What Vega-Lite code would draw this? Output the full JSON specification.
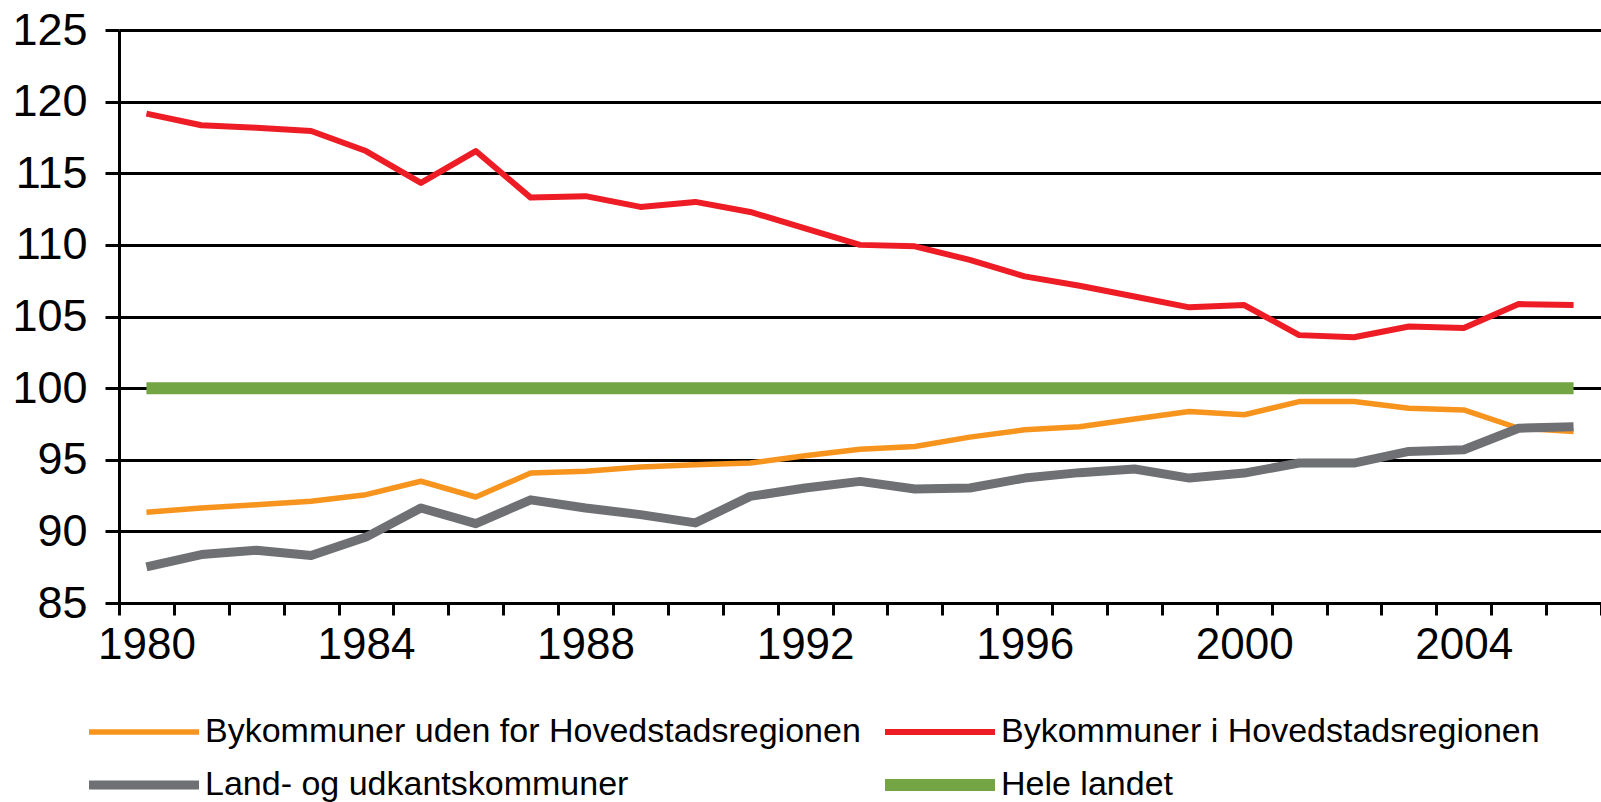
{
  "$schema": "https://vega.github.io/schema/vega-lite/v6.json",
  "width": 1482,
  "height": 573,
  "autosize": {"type": "none"},
  "padding": {"left": 119, "top": 30, "right": 0, "bottom": 199},
  "background": "white",
  "config": {
    "view": {"stroke": null},
    "font": "Liberation Sans",
    "axis": {"labelFont": "Liberation Sans", "labelColor": "black"}
  },
  "data": {"values": [
    {"year": 1980, "series": "Bykommuner uden for Hovedstadsregionen", "value": 91.33},
    {"year": 1981, "series": "Bykommuner uden for Hovedstadsregionen", "value": 91.63},
    {"year": 1982, "series": "Bykommuner uden for Hovedstadsregionen", "value": 91.86},
    {"year": 1983, "series": "Bykommuner uden for Hovedstadsregionen", "value": 92.1},
    {"year": 1984, "series": "Bykommuner uden for Hovedstadsregionen", "value": 92.56},
    {"year": 1985, "series": "Bykommuner uden for Hovedstadsregionen", "value": 93.5},
    {"year": 1986, "series": "Bykommuner uden for Hovedstadsregionen", "value": 92.4},
    {"year": 1987, "series": "Bykommuner uden for Hovedstadsregionen", "value": 94.07},
    {"year": 1988, "series": "Bykommuner uden for Hovedstadsregionen", "value": 94.2},
    {"year": 1989, "series": "Bykommuner uden for Hovedstadsregionen", "value": 94.49},
    {"year": 1990, "series": "Bykommuner uden for Hovedstadsregionen", "value": 94.65},
    {"year": 1991, "series": "Bykommuner uden for Hovedstadsregionen", "value": 94.77},
    {"year": 1992, "series": "Bykommuner uden for Hovedstadsregionen", "value": 95.28},
    {"year": 1993, "series": "Bykommuner uden for Hovedstadsregionen", "value": 95.74},
    {"year": 1994, "series": "Bykommuner uden for Hovedstadsregionen", "value": 95.93},
    {"year": 1995, "series": "Bykommuner uden for Hovedstadsregionen", "value": 96.58},
    {"year": 1996, "series": "Bykommuner uden for Hovedstadsregionen", "value": 97.09},
    {"year": 1997, "series": "Bykommuner uden for Hovedstadsregionen", "value": 97.3},
    {"year": 1998, "series": "Bykommuner uden for Hovedstadsregionen", "value": 97.85},
    {"year": 1999, "series": "Bykommuner uden for Hovedstadsregionen", "value": 98.37},
    {"year": 2000, "series": "Bykommuner uden for Hovedstadsregionen", "value": 98.14},
    {"year": 2001, "series": "Bykommuner uden for Hovedstadsregionen", "value": 99.06},
    {"year": 2002, "series": "Bykommuner uden for Hovedstadsregionen", "value": 99.06},
    {"year": 2003, "series": "Bykommuner uden for Hovedstadsregionen", "value": 98.6},
    {"year": 2004, "series": "Bykommuner uden for Hovedstadsregionen", "value": 98.48},
    {"year": 2005, "series": "Bykommuner uden for Hovedstadsregionen", "value": 97.2},
    {"year": 2006, "series": "Bykommuner uden for Hovedstadsregionen", "value": 96.97},
    {"year": 1980, "series": "Bykommuner i Hovedstadsregionen", "value": 119.16},
    {"year": 1981, "series": "Bykommuner i Hovedstadsregionen", "value": 118.35},
    {"year": 1982, "series": "Bykommuner i Hovedstadsregionen", "value": 118.18},
    {"year": 1983, "series": "Bykommuner i Hovedstadsregionen", "value": 117.95},
    {"year": 1984, "series": "Bykommuner i Hovedstadsregionen", "value": 116.55},
    {"year": 1985, "series": "Bykommuner i Hovedstadsregionen", "value": 114.33},
    {"year": 1986, "series": "Bykommuner i Hovedstadsregionen", "value": 116.55},
    {"year": 1987, "series": "Bykommuner i Hovedstadsregionen", "value": 113.3},
    {"year": 1988, "series": "Bykommuner i Hovedstadsregionen", "value": 113.4},
    {"year": 1989, "series": "Bykommuner i Hovedstadsregionen", "value": 112.65},
    {"year": 1990, "series": "Bykommuner i Hovedstadsregionen", "value": 113.0},
    {"year": 1991, "series": "Bykommuner i Hovedstadsregionen", "value": 112.3},
    {"year": 1992, "series": "Bykommuner i Hovedstadsregionen", "value": 111.15},
    {"year": 1993, "series": "Bykommuner i Hovedstadsregionen", "value": 110.0},
    {"year": 1994, "series": "Bykommuner i Hovedstadsregionen", "value": 109.9},
    {"year": 1995, "series": "Bykommuner i Hovedstadsregionen", "value": 108.95},
    {"year": 1996, "series": "Bykommuner i Hovedstadsregionen", "value": 107.8},
    {"year": 1997, "series": "Bykommuner i Hovedstadsregionen", "value": 107.15},
    {"year": 1998, "series": "Bykommuner i Hovedstadsregionen", "value": 106.4},
    {"year": 1999, "series": "Bykommuner i Hovedstadsregionen", "value": 105.64},
    {"year": 2000, "series": "Bykommuner i Hovedstadsregionen", "value": 105.8},
    {"year": 2001, "series": "Bykommuner i Hovedstadsregionen", "value": 103.7},
    {"year": 2002, "series": "Bykommuner i Hovedstadsregionen", "value": 103.55},
    {"year": 2003, "series": "Bykommuner i Hovedstadsregionen", "value": 104.3},
    {"year": 2004, "series": "Bykommuner i Hovedstadsregionen", "value": 104.2},
    {"year": 2005, "series": "Bykommuner i Hovedstadsregionen", "value": 105.87},
    {"year": 2006, "series": "Bykommuner i Hovedstadsregionen", "value": 105.8},
    {"year": 1980, "series": "Land- og udkantskommuner", "value": 87.52},
    {"year": 1981, "series": "Land- og udkantskommuner", "value": 88.38},
    {"year": 1982, "series": "Land- og udkantskommuner", "value": 88.68},
    {"year": 1983, "series": "Land- og udkantskommuner", "value": 88.31},
    {"year": 1984, "series": "Land- og udkantskommuner", "value": 89.6},
    {"year": 1985, "series": "Land- og udkantskommuner", "value": 91.63},
    {"year": 1986, "series": "Land- og udkantskommuner", "value": 90.54},
    {"year": 1987, "series": "Land- og udkantskommuner", "value": 92.2},
    {"year": 1988, "series": "Land- og udkantskommuner", "value": 91.63},
    {"year": 1989, "series": "Land- og udkantskommuner", "value": 91.17},
    {"year": 1990, "series": "Land- og udkantskommuner", "value": 90.59},
    {"year": 1991, "series": "Land- og udkantskommuner", "value": 92.44},
    {"year": 1992, "series": "Land- og udkantskommuner", "value": 93.03},
    {"year": 1993, "series": "Land- og udkantskommuner", "value": 93.49},
    {"year": 1994, "series": "Land- og udkantskommuner", "value": 92.96},
    {"year": 1995, "series": "Land- og udkantskommuner", "value": 93.03},
    {"year": 1996, "series": "Land- og udkantskommuner", "value": 93.72},
    {"year": 1997, "series": "Land- og udkantskommuner", "value": 94.1},
    {"year": 1998, "series": "Land- og udkantskommuner", "value": 94.35},
    {"year": 1999, "series": "Land- og udkantskommuner", "value": 93.72},
    {"year": 2000, "series": "Land- og udkantskommuner", "value": 94.07},
    {"year": 2001, "series": "Land- og udkantskommuner", "value": 94.77},
    {"year": 2002, "series": "Land- og udkantskommuner", "value": 94.77},
    {"year": 2003, "series": "Land- og udkantskommuner", "value": 95.58},
    {"year": 2004, "series": "Land- og udkantskommuner", "value": 95.7},
    {"year": 2005, "series": "Land- og udkantskommuner", "value": 97.2},
    {"year": 2006, "series": "Land- og udkantskommuner", "value": 97.3},
    {"year": 1980, "series": "Hele landet", "value": 100},
    {"year": 1981, "series": "Hele landet", "value": 100},
    {"year": 1982, "series": "Hele landet", "value": 100},
    {"year": 1983, "series": "Hele landet", "value": 100},
    {"year": 1984, "series": "Hele landet", "value": 100},
    {"year": 1985, "series": "Hele landet", "value": 100},
    {"year": 1986, "series": "Hele landet", "value": 100},
    {"year": 1987, "series": "Hele landet", "value": 100},
    {"year": 1988, "series": "Hele landet", "value": 100},
    {"year": 1989, "series": "Hele landet", "value": 100},
    {"year": 1990, "series": "Hele landet", "value": 100},
    {"year": 1991, "series": "Hele landet", "value": 100},
    {"year": 1992, "series": "Hele landet", "value": 100},
    {"year": 1993, "series": "Hele landet", "value": 100},
    {"year": 1994, "series": "Hele landet", "value": 100},
    {"year": 1995, "series": "Hele landet", "value": 100},
    {"year": 1996, "series": "Hele landet", "value": 100},
    {"year": 1997, "series": "Hele landet", "value": 100},
    {"year": 1998, "series": "Hele landet", "value": 100},
    {"year": 1999, "series": "Hele landet", "value": 100},
    {"year": 2000, "series": "Hele landet", "value": 100},
    {"year": 2001, "series": "Hele landet", "value": 100},
    {"year": 2002, "series": "Hele landet", "value": 100},
    {"year": 2003, "series": "Hele landet", "value": 100},
    {"year": 2004, "series": "Hele landet", "value": 100},
    {"year": 2005, "series": "Hele landet", "value": 100},
    {"year": 2006, "series": "Hele landet", "value": 100}
  ]},
  "layer": [
    {
      "mark": {"type": "line", "strokeCap": "butt", "strokeJoin": "round"},
      "encoding": {
        "x": {
          "field": "year", "type": "quantitative",
          "scale": {"domain": [1979.5, 2006.5], "nice": false, "zero": false},
          "axis": {
            "orient": "bottom",
            "title": null, "labels": false, "grid": false,
            "values": [1979.5, 1980.5, 1981.5, 1982.5, 1983.5, 1984.5, 1985.5, 1986.5, 1987.5, 1988.5, 1989.5, 1990.5, 1991.5, 1992.5, 1993.5, 1994.5, 1995.5, 1996.5, 1997.5, 1998.5, 1999.5, 2000.5, 2001.5, 2002.5, 2003.5, 2004.5, 2005.5, 2006.5],
            "ticks": true, "tickSize": 12, "tickWidth": 3, "tickColor": "black",
            "domain": true, "domainColor": "black", "domainWidth": 3
          }
        },
        "y": {
          "field": "value", "type": "quantitative",
          "scale": {"domain": [85, 125], "nice": false, "zero": false},
          "axis": {
            "title": null, "values": [85, 90, 95, 100, 105, 110, 115, 120, 125],
            "grid": true, "gridColor": "black", "gridWidth": 3, "gridOpacity": 1,
            "domain": true, "domainColor": "black", "domainWidth": 3,
            "ticks": true, "tickSize": 14, "tickWidth": 3, "tickColor": "black",
            "labelFontSize": 45, "labelPadding": 18, "labelFont": "Liberation Sans"
          }
        },
        "color": {
          "field": "series", "type": "nominal",
          "scale": {
            "domain": ["Bykommuner uden for Hovedstadsregionen", "Bykommuner i Hovedstadsregionen", "Land- og udkantskommuner", "Hele landet"],
            "range": ["#F7941E", "#EE1C25", "#6E7073", "#74A545"]
          },
          "legend": {
            "title": null, "orient": "none", "legendX": -36, "legendY": 684,
            "columns": 2, "direction": "horizontal", "clipHeight": 36,
            "symbolType": "stroke", "symbolSize": 12100, "symbolStrokeWidth": 9,
            "labelFontSize": 34, "labelFont": "Liberation Sans", "labelColor": "black",
            "labelOffset": 0, "labelLimit": 0, "columnPadding": 18, "rowPadding": 17, "padding": 0
          }
        },
        "strokeWidth": {
          "field": "series", "type": "nominal",
          "scale": {
            "type": "ordinal",
            "domain": ["Bykommuner uden for Hovedstadsregionen", "Bykommuner i Hovedstadsregionen", "Land- og udkantskommuner", "Hele landet"],
            "range": [5.5, 6, 9, 12]
          },
          "legend": null
        },
        "order": {"field": "year", "type": "quantitative"}
      }
    },
    {
      "mark": {"type": "point", "opacity": 0},
      "encoding": {
        "x": {
          "field": "year", "type": "quantitative",
          "axis": {
            "orient": "bottom",
            "title": null, "values": [1980, 1984, 1988, 1992, 1996, 2000, 2004],
            "format": "d", "ticks": false, "domain": false, "grid": false,
            "labelFontSize": 44, "labelPadding": 20, "labelFont": "Liberation Sans", "labelColor": "black"
          }
        }
      }
    }
  ],
  "resolve": {"axis": {"x": "independent"}}
}
